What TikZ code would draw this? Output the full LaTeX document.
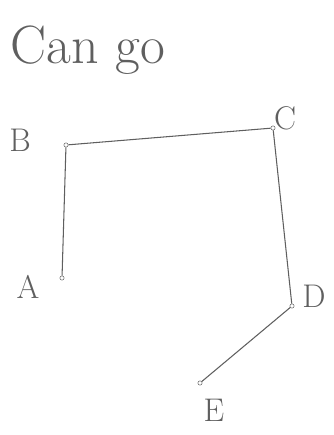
\documentclass[tikz,border=0pt]{standalone}
\usepackage{tikz}
\usetikzlibrary{positioning}
\definecolor{pencil}{RGB}{95,95,95}

\begin{document}
\begin{tikzpicture}[x=0.03cm, y=-0.03cm,
  every node/.style={text=pencil},
  vtx/.style={circle, draw=pencil, inner sep=1.3pt},
  lbl/.style={font=\fontsize{28}{28}\selectfont},
  edge/.style={draw=pencil, line width=0.9pt}]
\useasboundingbox (0,0) rectangle (334,435);
% Title
\node[font=\fontsize{46}{46}\selectfont] (title) at (88,50) {Can go};
% Corner points
\node[vtx] (A) at (62,278) {};
\node[vtx] (B) at (66,145) {};
\node[vtx] (C) at (273,128) {};
\node[vtx] (D) at (292,306) {};
\node[vtx] (E) at (200,383) {};
% Letters
\node[lbl] (Alab) at (28,287) {A};
\node[lbl] (Blab) at (20,140) {B};
\node[lbl] (Clab) at (285,118) {C};
\node[lbl] (Dlab) at (314,296) {D};
\node[lbl] (Elab) at (214,410) {E};
% Path
\draw[edge] (A) -- (B) -- (C) -- (D) -- (E);
\end{tikzpicture}
\end{document}
